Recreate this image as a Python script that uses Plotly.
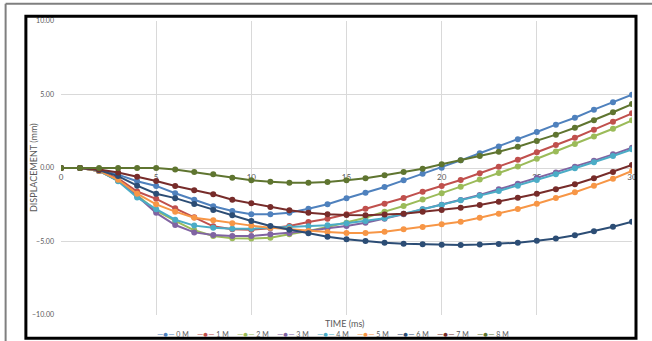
import plotly.graph_objects as go

time_ms = list(range(0, 31))
series_names = ["0 M", "1 M", "2 M", "3 M", "4 M", "5 M", "6 M", "7 M", "8 M"]
colors = ["#4F81BD", "#C0504D", "#9BBB59", "#8064A2", "#4BACC6",
          "#F79646", "#2C4D75", "#772C2A", "#5F7530"]

m0 = [0, 0, -0.1, -0.45, -0.9, -1.22, -1.72, -2.16, -2.6, -2.93, -3.15, -3.15, -3.04, -2.77, -2.47, -2.06,
      -1.68, -1.29, -0.84, -0.39, 0.02, 0.52, 1.0, 1.47, 1.95, 2.45, 2.95, 3.42, 3.97, 4.47, 4.99]
m1 = [0, 0, -0.2, -0.7, -1.6, -2.1, -2.74, -3.35, -3.97, -4.17, -4.2, -4.1, -3.95, -3.67, -3.45, -3.15,
      -2.77, -2.43, -2.04, -1.61, -1.22, -0.82, -0.36, 0.09, 0.56, 1.07, 1.56, 2.06, 2.61, 3.15, 3.72]
m2 = [0, 0, -0.2, -0.85, -1.85, -2.9, -3.6, -4.24, -4.63, -4.78, -4.8, -4.74, -4.51, -4.29, -4.01, -3.72,
      -3.38, -2.97, -2.59, -2.15, -1.72, -1.27, -0.79, -0.34, 0.11, 0.63, 1.13, 1.63, 2.15, 2.67, 3.24]
m3 = [0, 0, -0.2, -0.85, -1.9, -3.05, -3.88, -4.38, -4.56, -4.63, -4.63, -4.51, -4.44, -4.29, -4.1, -3.95,
      -3.72, -3.45, -3.15, -2.81, -2.5, -2.18, -1.84, -1.45, -1.07, -0.66, -0.3, 0.09, 0.5, 0.93, 1.38]
m4 = [0, 0, -0.2, -0.9, -2.0, -2.8, -3.52, -3.92, -4.06, -4.13, -4.13, -4.06, -4.01, -3.97, -3.9, -3.76,
      -3.6, -3.42, -3.11, -2.81, -2.52, -2.2, -1.88, -1.56, -1.2, -0.82, -0.43, -0.02, 0.39, 0.82, 1.27]
m5 = [0, 0, -0.2, -0.8, -1.75, -2.47, -2.97, -3.38, -3.56, -3.76, -3.92, -4.06, -4.17, -4.29, -4.35, -4.42,
      -4.42, -4.33, -4.17, -4.01, -3.83, -3.65, -3.38, -3.11, -2.79, -2.43, -2.04, -1.65, -1.2, -0.73, -0.2]
m6 = [0, 0, -0.15, -0.55, -1.2, -1.75, -2.05, -2.45, -2.85, -3.22, -3.6, -3.95, -4.2, -4.44, -4.67, -4.85,
      -4.97, -5.08, -5.15, -5.19, -5.22, -5.24, -5.21, -5.17, -5.08, -4.95, -4.8, -4.58, -4.3, -4.0, -3.65]
m7 = [0, 0, -0.1, -0.3, -0.6, -0.88, -1.22, -1.52, -1.79, -2.16, -2.4, -2.65, -2.88, -3.04, -3.15, -3.2,
      -3.22, -3.17, -3.11, -2.97, -2.86, -2.7, -2.52, -2.29, -2.02, -1.75, -1.45, -1.11, -0.7, -0.27, 0.2]
m8 = [0, 0, 0, 0, 0, 0, -0.1, -0.28, -0.43, -0.66, -0.84, -0.93, -1.0, -1.0, -0.95, -0.84,
      -0.7, -0.5, -0.27, -0.05, 0.25, 0.52, 0.82, 1.11, 1.45, 1.84, 2.27, 2.74, 3.24, 3.79, 4.35]
series_values = [m0, m1, m2, m3, m4, m5, m6, m7, m8]

x_tick_vals = [0, 5, 10, 15, 20, 25, 30]
x_tick_text = ["0", "5", "10", "15", "20", "25", "30"]
y_tick_vals = [-10, -5, 0, 5, 10]

FONT = "Lato, 'Open Sans', sans-serif"
GRAY = "#595959"
GRID = "#D9D9D9"

fig = go.Figure()
for name, vals, col in zip(series_names, series_values, colors):
    fig.add_trace(go.Scatter(
        x=time_ms, y=vals, name=name, mode="lines+markers",
        line=dict(color=col, width=2),
        marker=dict(color=col, size=6, symbol="circle"),
        showlegend=False,
    ))

# compact Excel-style legend as text
for i, (name, col) in enumerate(zip(series_names, colors)):
    fig.add_annotation(
        xref="paper", yref="paper", x=0.164 + 0.0702 * i, y=-0.066,
        xanchor="left", yanchor="middle", showarrow=False,
        text=f"<span style='color:{col};font-size:8px'>—●—</span> {name}",
        font=dict(family=FONT, size=7, color=GRAY),
    )

fig.add_annotation(xref="paper", yref="paper", x=0.497, y=-0.03, xanchor="center",
                   yanchor="middle", showarrow=False, text="TIME (ms)",
                   font=dict(family=FONT, size=9, color=GRAY))
fig.add_annotation(xref="paper", yref="paper", x=-0.049, y=0.5, xanchor="center",
                   yanchor="middle", showarrow=False, text="DISPLACEMENT (mm)", textangle=-90,
                   font=dict(family=FONT, size=9, color=GRAY))

# frames
fig.add_shape(type="rect", xref="paper", yref="paper", x0=-0.0615, x1=1.007, y0=-0.0795, y1=1.0165,
              line=dict(color="black", width=3), fillcolor="rgba(0,0,0,0)", layer="above")
fig.add_shape(type="line", xref="paper", yref="paper", x0=-0.097, x1=1.06, y0=1.059, y1=1.059,
              line=dict(color="#7F7F7F", width=2))
fig.add_shape(type="line", xref="paper", yref="paper", x0=-0.097, x1=-0.097, y0=-0.12, y1=1.059,
              line=dict(color="#7F7F7F", width=2))

fig.update_layout(
    width=652, height=341,
    margin=dict(l=61, r=20, t=21, b=26),
    paper_bgcolor="white", plot_bgcolor="white",
    font=dict(family=FONT, color=GRAY),
    xaxis=dict(range=[0, 30], tickvals=x_tick_vals, ticktext=x_tick_text,
               showgrid=True, gridcolor=GRID, gridwidth=1, zeroline=False, showline=False,
               anchor="free", position=0.5, layer="below traces",
               tickfont=dict(family=FONT, size=8, color=GRAY), ticks="", ticklabelstandoff=3),
    yaxis=dict(range=[-10, 10], tickvals=y_tick_vals, tickformat=".2f",
               showgrid=True, gridcolor=GRID, gridwidth=1, zeroline=False, showline=False,
               tickfont=dict(family=FONT, size=7, color=GRAY), ticks="", ticklabelstandoff=6),
)

fig.write_html("out.html")
